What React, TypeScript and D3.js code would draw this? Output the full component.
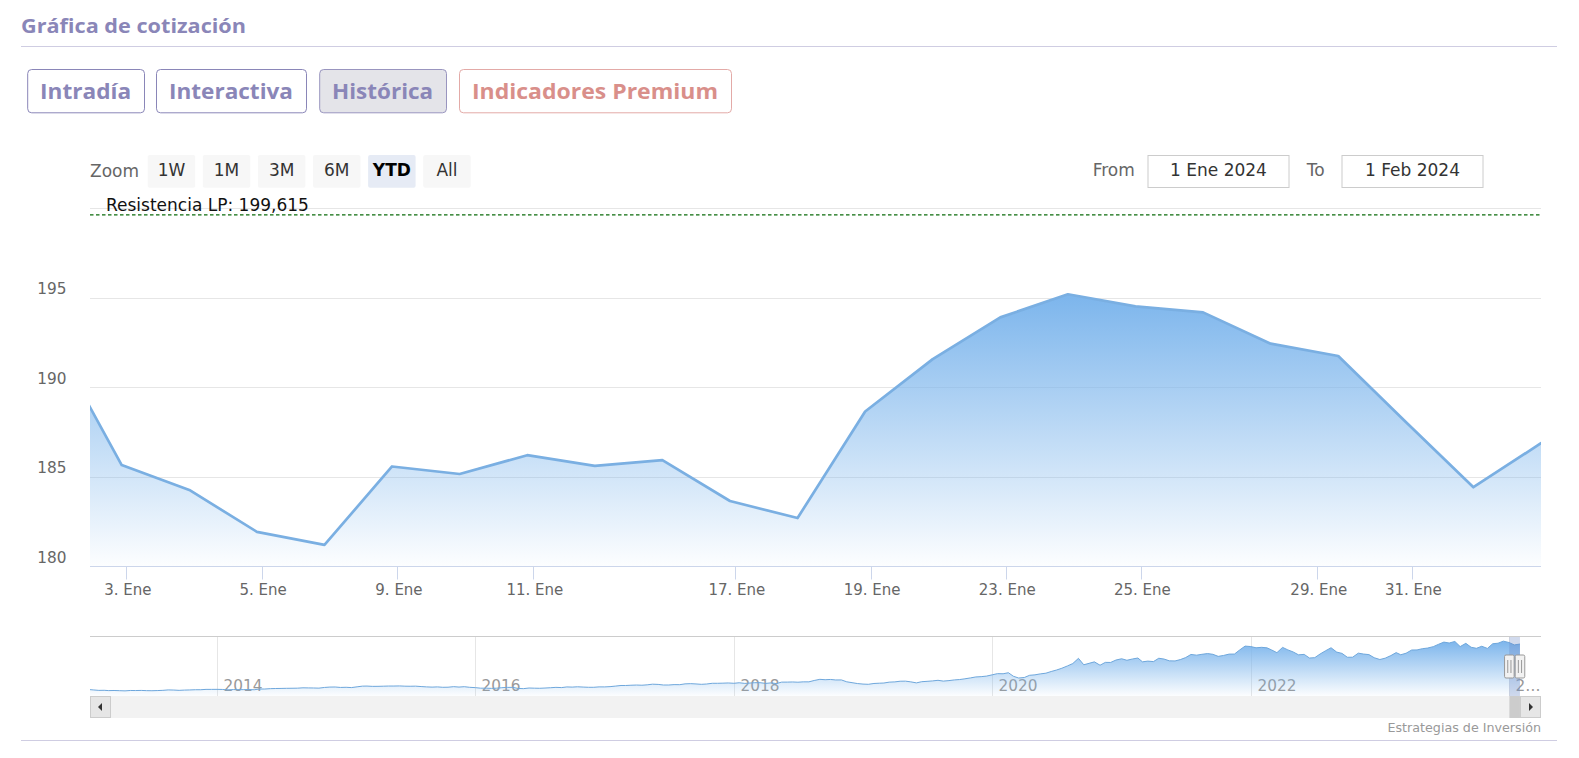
import React from 'react';
import * as d3 from 'd3';

// ---------- Main series (daily closes, ordinal axis) ----------
const dates = [
  '2023-12-29', '2024-01-02', '2024-01-03', '2024-01-04', '2024-01-05', '2024-01-08',
  '2024-01-09', '2024-01-10', '2024-01-11', '2024-01-12', '2024-01-16', '2024-01-17',
  '2024-01-18', '2024-01-19', '2024-01-22', '2024-01-23', '2024-01-24', '2024-01-25',
  '2024-01-26', '2024-01-29', '2024-01-30', '2024-01-31', '2024-02-01',
];
const closes = [
  192.53, 185.64, 184.25, 181.91, 181.18, 185.56,
  185.14, 186.19, 185.59, 185.92, 183.63, 182.68,
  188.63, 191.56, 193.89, 195.18, 194.5, 194.17,
  192.42, 191.73, 188.04, 184.4, 186.86,
];
// x tick labels and their positions in trading-day units (0 = 2 Jan 2024)
const xTickLabels = ['3. Ene', '5. Ene', '9. Ene', '11. Ene', '17. Ene', '19. Ene', '23. Ene', '25. Ene', '29. Ene', '31. Ene'];
const xTickPositions = [0.07, 2.07, 4.08, 6.09, 9.08, 11.08, 13.08, 15.08, 17.69, 19.09];
const yGridValues = [185, 190, 195, 200];
const yLabelValues = [180, 185, 190, 195];
const resistance = 199.615;
const resistanceLabel = 'Resistencia LP: 199,615';

// ---------- UI texts ----------
const title = 'Gráfica de cotización';
const tabs = ['Intradía', 'Interactiva', 'Histórica', 'Indicadores Premium'];
const rangeButtons = ['1W', '1M', '3M', '6M', 'YTD', 'All'];
const selectedRange = 'YTD';
const fromDate = '1 Ene 2024';
const toDate = '1 Feb 2024';
const credits = 'Estrategias de Inversión';

// ---------- Navigator series (two samples per month: 1st and 16th) ----------
const nav2013 = [19.6, 17.9, 16.2, 16.5, 15.4, 15.8, 15.1, 14.4, 15.8, 15.6, 16.0, 15.2, 14.9, 15.5, 16.3, 17.9, 17.4, 16.3, 17.3, 17.8, 18.6, 18.6, 19.9, 19.9];
const nav2014 = [20.0, 19.6, 17.9, 19.2, 18.8, 18.9, 19.3, 18.5, 21.1, 21.2, 22.6, 23.1, 23.4, 23.8, 24.0, 24.3, 25.6, 25.3, 25.0, 24.4, 27.0, 28.4, 28.6, 27.0];
const nav2015 = [27.6, 26.5, 29.3, 31.8, 32.1, 31.0, 31.1, 31.6, 32.2, 32.2, 32.6, 31.7, 31.4, 31.8, 30.3, 29.1, 28.2, 29.0, 27.6, 27.9, 29.9, 28.4, 29.8, 27.5];
const nav2016 = [26.3, 24.3, 24.3, 23.6, 24.2, 26.1, 27.2, 27.3, 23.4, 22.6, 24.9, 24.3, 23.9, 24.8, 26.0, 27.3, 26.5, 28.9, 28.3, 29.4, 28.4, 27.6, 27.6, 29.1];
const nav2017 = [29.0, 30.0, 32.1, 34.2, 34.2, 35.1, 35.9, 35.2, 36.6, 39.0, 38.2, 36.0, 36.0, 37.4, 37.2, 40.2, 41.0, 39.9, 38.5, 39.7, 42.3, 42.3, 42.8, 43.5];
const nav2018 = [42.3, 44.3, 41.9, 43.3, 44.5, 44.5, 41.9, 43.8, 41.3, 46.6, 46.7, 47.2, 46.3, 47.6, 47.6, 52.6, 56.9, 55.5, 56.4, 54.6, 54.7, 47.8, 44.6, 41.4];
const nav2019 = [39.4, 38.6, 41.6, 42.6, 43.3, 46.5, 47.5, 49.9, 50.2, 47.6, 43.8, 48.2, 49.5, 51.0, 53.3, 50.4, 52.2, 54.7, 56.1, 58.8, 62.2, 65.7, 66.8, 68.8];
const nav2020 = [73.4, 77.8, 77.4, 81.2, 68.3, 61.7, 63.6, 71.8, 73.4, 76.9, 79.5, 85.7, 91.2, 97.7, 106.3, 115.0, 134.2, 110.5, 115.8, 121.2, 108.9, 119.3, 119.1, 127.9];
const nav2021 = [132.7, 127.1, 131.9, 135.4, 121.3, 124.0, 122.2, 134.5, 131.5, 125.0, 124.6, 129.6, 137.0, 148.5, 145.9, 149.1, 151.8, 149.0, 141.5, 144.8, 149.8, 150.0, 165.3, 179.3];
const nav2022 = [177.6, 173.1, 174.8, 172.8, 165.1, 155.1, 174.6, 165.3, 157.7, 147.1, 148.8, 135.4, 136.7, 150.2, 162.5, 173.2, 157.2, 152.4, 138.2, 138.4, 153.3, 150.0, 148.0, 136.5];
const nav2023 = [129.9, 134.8, 144.3, 155.3, 147.4, 153.0, 164.9, 165.2, 169.7, 172.1, 177.3, 186.0, 194.0, 190.7, 196.4, 177.5, 189.5, 175.0, 171.2, 178.7, 170.8, 188.0, 189.9, 197.6];
const nav2024 = [192.5, 183.6, 186.9];
const navYears = [2013, 2014, 2015, 2016, 2017, 2018, 2019, 2020, 2021, 2022, 2023, 2024];
const navByYear = [nav2013, nav2014, nav2015, nav2016, nav2017, nav2018, nav2019, nav2020, nav2021, nav2022, nav2023, nav2024];
const navTickYears = [2014, 2016, 2018, 2020, 2022, 2024];
const navTickLabels = ['2014', '2016', '2018', '2020', '2022', '2…'];
const selStart = '2024-01-02';
const selEnd = '2024-02-01';

const W = 1579;
const H = 758;
const CHART_FONT = "'DejaVu Sans', Verdana, sans-serif";
const UI_FONT = "'Open Sans', 'Noto Sans', sans-serif";
const PURPLE = '#8a86b8';

function parseDay(s: string) {
  const [y, m, d] = s.split('-').map(Number);
  return new Date(y, m - 1, d);
}

export default function App() {
  // main plot geometry
  const plotL = 90, plotR = 1541, plotT = 200, plotB = 566;
  const x = d3.scaleLinear().domain([0, 21]).range([121.7, 1541]);
  const y = d3.scaleLinear().domain([180, 200]).range([plotB, 208]);
  const pts = closes.map((v, i) => ({ i: i - 1, v, d: dates[i] }));
  const area = d3.area<any>().x((d) => x(d.i)).y0(plotB).y1((d) => y(d.v))(pts) || '';
  const line = d3.line<any>().x((d) => x(d.i)).y((d) => y(d.v))(pts) || '';

  // navigator
  const navT = 636, navB = 696, sbB = 718;
  const xn = d3.scaleTime().domain([new Date(2014, 0, 1), new Date(2024, 0, 1)]).range([217, 1509]);
  const yn = d3.scaleLinear().domain([-4.5, 216.5]).range([navB, navT]);
  const navPts: { t: Date; v: number }[] = [];
  navByYear.forEach((arr, yi) => {
    arr.forEach((v, k) => {
      navPts.push({ t: new Date(navYears[yi], Math.floor(k / 2), k % 2 === 0 ? 1 : 16), v });
    });
  });
  const navArea = d3.area<any>().x((d) => xn(d.t)).y0(navB).y1((d) => yn(d.v))(navPts) || '';
  const navLine = d3.line<any>().x((d) => xn(d.t)).y((d) => yn(d.v))(navPts) || '';
  const s0 = xn(parseDay(selStart));
  const s1 = xn(parseDay(selEnd));

  const tabBoxes = [
    { x0: 27.2, x1: 144, tl: 91 },
    { x0: 156, x1: 306, tl: 124 },
    { x0: 319.2, x1: 446, tl: 101 },
    { x0: 459, x1: 731, tl: 246 },
  ];

  const handle = (cx: number, key: string) => (
    <g key={key}>
      <rect x={cx - 4.8} y={655} width={9.6} height={23} rx={1.5} fill="#f2f2f2" stroke="#999" strokeWidth={1} />
      <line x1={cx - 1.6} x2={cx - 1.6} y1={660} y2={673} stroke="#999" strokeWidth={1} />
      <line x1={cx + 1.6} x2={cx + 1.6} y1={660} y2={673} stroke="#999" strokeWidth={1} />
    </g>
  );

  return (
    <svg width={W} height={H} style={{ position: 'absolute', left: 0, top: 0, background: '#fff' }}>
      <defs>
        <linearGradient id="mainGrad" x1="0" y1="0" x2="0" y2="1">
          <stop offset="0" stopColor="#7cb5ec" stopOpacity={1} />
          <stop offset="1" stopColor="#7cb5ec" stopOpacity={0.02} />
        </linearGradient>
        <linearGradient id="navGrad" x1="0" y1="0" x2="0" y2="1">
          <stop offset="0" stopColor="#7cb5ec" stopOpacity={1} />
          <stop offset="1" stopColor="#7cb5ec" stopOpacity={0.02} />
        </linearGradient>
        <clipPath id="plotClip">
          <rect x={plotL} y={plotT} width={plotR - plotL} height={plotB - plotT} />
        </clipPath>
        <clipPath id="navClip">
          <rect x={plotL} y={navT} width={plotR - plotL} height={navB - navT} />
        </clipPath>
      </defs>

      {/* Header */}
      <text x={21} y={32.5} fontFamily={UI_FONT} fontWeight={700} fontSize={19} fill={PURPLE} textLength={225} lengthAdjust="spacingAndGlyphs">{title}</text>
      <line x1={21} x2={1557} y1={46.5} y2={46.5} stroke="#cfcde2" strokeWidth={1} />
      {tabs.map((t, i) => {
        const b = tabBoxes[i];
        const active = i === 2;
        const premium = i === 3;
        return (
          <g key={t}>
            <rect x={b.x0 + 0.5} y={69.5} width={b.x1 - b.x0} height={43.3} rx={4}
              fill={active ? '#e4e4e9' : '#fff'} stroke={premium ? '#e3aaa7' : active ? '#9995bf' : PURPLE} strokeWidth={1} />
            <text x={(b.x0 + b.x1) / 2} y={99} textAnchor="middle" fontFamily={UI_FONT} fontWeight={700} fontSize={21.5}
              fill={premium ? '#d98f8a' : PURPLE} textLength={b.tl} lengthAdjust="spacingAndGlyphs">{t}</text>
          </g>
        );
      })}

      {/* Range selector */}
      <text x={90} y={177} fontFamily={CHART_FONT} fontSize={17} fill="#666">Zoom</text>
      {rangeButtons.map((b, i) => {
        const bx = 147.7 + i * 55.1;
        const sel = b === selectedRange;
        return (
          <g key={b}>
            <rect x={bx} y={155} width={47.5} height={32.7} rx={2} fill={sel ? '#e6ebf5' : '#f7f7f7'} />
            <text x={bx + 23.75} y={176} textAnchor="middle" fontFamily={CHART_FONT} fontSize={17}
              fontWeight={sel ? 700 : 400} fill={sel ? '#000' : '#333'}>{b}</text>
          </g>
        );
      })}
      <text x={1092.7} y={176} fontFamily={CHART_FONT} fontSize={17} fill="#666">From</text>
      <rect x={1148} y={155.5} width={141} height={32} fill="#fff" stroke="#cccccc" strokeWidth={1} />
      <text x={1218.5} y={176} textAnchor="middle" fontFamily={CHART_FONT} fontSize={17} fill="#333">{fromDate}</text>
      <text x={1306.7} y={176} fontFamily={CHART_FONT} fontSize={17} fill="#666">To</text>
      <rect x={1342} y={155.5} width={141} height={32} fill="#fff" stroke="#cccccc" strokeWidth={1} />
      <text x={1412.5} y={176} textAnchor="middle" fontFamily={CHART_FONT} fontSize={17} fill="#333">{toDate}</text>

      {/* Grid */}
      {yGridValues.map((v) => (
        <line key={v} x1={plotL} x2={plotR} y1={Math.round(y(v)) + 0.5} y2={Math.round(y(v)) + 0.5} stroke="#e6e6e6" strokeWidth={1} />
      ))}
      {yLabelValues.map((v) => (
        <text key={v} x={66.5} y={y(v) - 3.5} textAnchor="end" fontFamily={CHART_FONT} fontSize={15.3} fill="#666">{v}</text>
      ))}

      {/* Series */}
      <g clipPath="url(#plotClip)">
        <path d={area} fill="url(#mainGrad)" />
        <path d={line} fill="none" stroke="#7aafe2" strokeWidth={2.7} strokeLinejoin="round" strokeLinecap="round" />
      </g>

      {/* Resistance line */}
      <line x1={plotL} x2={plotR} y1={y(resistance)} y2={y(resistance)} stroke="#0b6b0b" strokeWidth={1.1} strokeDasharray="3.5,2.5" />
      <text x={106} y={211} fontFamily={CHART_FONT} fontSize={17} fill="#111">{resistanceLabel}</text>

      {/* X axis */}
      <line x1={plotL} x2={plotR} y1={plotB + 0.5} y2={plotB + 0.5} stroke="#ccd6eb" strokeWidth={1} />
      {xTickPositions.map((p, i) => (
        <g key={xTickLabels[i]}>
          <line x1={Math.round(x(p)) + 0.5} x2={Math.round(x(p)) + 0.5} y1={plotB} y2={plotB + 13.5} stroke="#ccd6eb" strokeWidth={1} />
          <text x={x(p) + 1.5} y={595} textAnchor="middle" fontFamily={CHART_FONT} fontSize={15} fill="#666">{xTickLabels[i]}</text>
        </g>
      ))}

      {/* Navigator */}
      {navTickYears.map((yr, i) => {
        const gx = Math.round(xn(new Date(yr, 0, 1))) + 0.5;
        return (
          <g key={yr}>
            <line x1={gx} x2={gx} y1={navT} y2={navB} stroke="#e6e6e6" strokeWidth={1} />
            <text x={gx + 6} y={690.5} fontFamily={CHART_FONT} fontSize={15.3} fill="#999">{navTickLabels[i]}</text>
          </g>
        );
      })}
      <g clipPath="url(#navClip)">
        <path d={navArea} fill="url(#navGrad)" />
        <path d={navLine} fill="none" stroke="#6ea7dc" strokeWidth={1} />
      </g>
      <rect x={s0} y={navT} width={s1 - s0} height={navB - navT} fill="rgba(102,133,194,0.3)" />
      <line x1={plotL} x2={plotR} y1={navT + 0.5} y2={navT + 0.5} stroke="#cccccc" strokeWidth={1} />

      {/* Scrollbar */}
      <rect x={plotL} y={navB} width={plotR - plotL} height={sbB - navB} fill="#f2f2f2" />
      <rect x={s0} y={navB} width={s1 - s0} height={sbB - navB} fill="#cccccc" />
      <rect x={plotL + 0.5} y={navB + 0.5} width={20} height={sbB - navB - 1} fill="#e6e6e6" stroke="#cccccc" strokeWidth={1} />
      <path d={`M${plotL + 12},${703} L${plotL + 12},${711} L${plotL + 8},${707} Z`} fill="#333" />
      <rect x={plotR - 20.5} y={navB + 0.5} width={20} height={sbB - navB - 1} fill="#e6e6e6" stroke="#cccccc" strokeWidth={1} />
      <path d={`M${plotR - 12},${703} L${plotR - 12},${711} L${plotR - 8},${707} Z`} fill="#333" />

      {handle(s0, 'h0')}
      {handle(s1, 'h1')}

      {/* Credits */}
      <text x={plotR} y={732} textAnchor="end" fontFamily={CHART_FONT} fontSize={12.7} fill="#999">{credits}</text>
      <line x1={21} x2={1557} y1={740.5} y2={740.5} stroke="#cfcde2" strokeWidth={1} />
    </svg>
  );
}
